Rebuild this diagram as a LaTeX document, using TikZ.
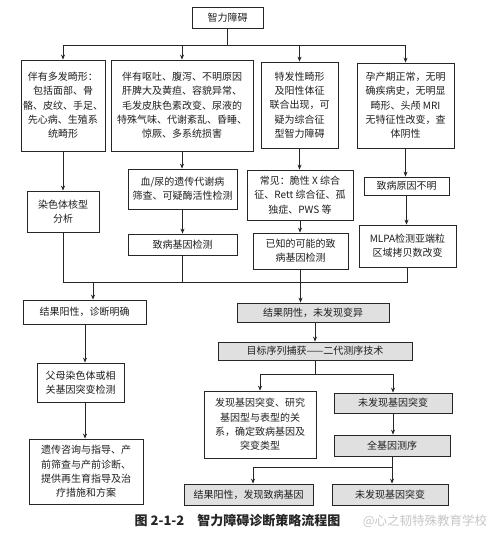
\documentclass[tikz,border=0pt]{standalone}
\usepackage{fontspec}
\setmainfont{Noto Sans CJK SC}
\usetikzlibrary{arrows.meta}
\begin{document}
\begin{tikzpicture}[x=1pt,y=-1pt,
 wh/.style 2 args={minimum width=#1pt,minimum height=#2pt},
 box/.style={draw=black!85,line width=0.8pt,inner sep=0pt,align=center,
   font=\fontsize{10}{14.3}\selectfont,text=black!88},
 gbox/.style={box,fill=black!12},
 ln/.style={draw=black!85,line width=0.7pt},
 arr/.style={-{Stealth[length=5pt,width=4pt]}}]
\useasboundingbox (0,0) rectangle (500,545);
\fill[white] (0,0) rectangle (500,545);

% row 0
\node[box,wh={71}{21}] (top) at (227.5,17.5) {智力障碍};
% row 1
\node[box,wh={84}{91}] (A) at (63,105.5) {伴有多发畸形：\\包括面部、骨\\骼、皮纹、手足、\\先心病、生殖系\\统畸形};
\node[box,wh={142}{91}] (B) at (182,105.5) {伴有呕吐、腹泻、不明原因\\肝脾大及黄疸、容貌异常、\\毛发皮肤色素改变、尿液的\\特殊气味、代谢紊乱、昏睡、\\惊厥、多系统损害};
\node[box,wh={77}{86}] (C) at (299.5,105) {特发性畸形\\及阳性体征\\联合出现，可\\疑为综合征\\型智力障碍};
\node[box,wh={97}{85}] (D) at (405.5,105.5) {孕产期正常，无明\\确疾病史，无明显\\畸形、头颅 MRI\\无特征性改变，查\\体阴性};
% row 2
\node[box,wh={72}{41}] (A2) at (63,211.5) {染色体核型\\分析};
\node[box,wh={109}{40}] (B2) at (182.5,189) {血/尿的遗传代谢病\\筛查、可疑酶活性检测};
\node[box,wh={109}{21}] (B3) at (182.5,244.5) {致病基因检测};
\node[box,wh={106}{50}] (C2) at (300,195) {常见：脆性 X 综合\\征、Rett 综合征、孤\\独症、PWS 等};
\node[box,wh={95}{36}] (C3) at (300.5,251) {已知的可能的致\\病基因检测};
\node[box,wh={85}{18}] (D2) at (406.5,186) {致病原因不明};
\node[box,wh={97}{42}] (D3) at (407.5,246) {MLPA检测亚端粒\\区域拷贝数改变};
% lower left
\node[box,wh={123}{24}] (P1) at (84.5,312) {结果阳性，诊断明确};
\node[box,wh={87}{39}] (P2) at (80.5,382.5) {父母染色体或相\\关基因突变检测};
\node[box,wh={114}{65}] (P3) at (86,471.5) {遗传咨询与指导、产\\前筛查与产前诊断、\\提供再生育指导及治\\疗措施和方案};
% lower right
\node[gbox,wh={152}{19}] (N1) at (313,312.5) {结果阴性，未发现变异};
\node[gbox,wh={194}{18}] (N2) at (315,351) {目标序列捕获——二代测序技术};
\node[box,wh={112}{67}] (F1) at (260,424.5) {发现基因突变、研究\\基因型与表型的关\\系，确定致病基因及\\突变类型};
\node[gbox,wh={118}{20}] (F2) at (393,403) {未发现基因突变};
\node[gbox,wh={116}{21}] (F3) at (392,445.5) {全基因测序};
\node[gbox,wh={129}{21}] (G1) at (248.5,494.5) {结果阳性，发现致病基因};
\node[gbox,wh={116}{21}] (G2) at (390,494.5) {未发现基因突变};

% caption and watermark
\node[font=\fontsize{13}{15}\selectfont\bfseries,text=black!85] (cap) at (237.5,521) {图 2-1-2\quad 智力障碍诊断策略流程图};
\node[font=\fontsize{12.5}{15}\selectfont,text=black!22] (wm) at (425,521) {@心之韧特殊教育学校};

% connectors: top split
\coordinate (bus) at (227.5,45);
\draw[ln] (top.south) -- (bus);
\draw[ln,arr] (bus) -| (A.north);
\draw[ln,arr] (bus) -| (B.north);
\draw[ln,arr] (bus) -| (C.north);
\draw[ln,arr] (bus) -| (D.north);
% columns
\draw[ln,arr] (A.south) -- (A2.north);
\draw[ln,arr] (B.south) -- (B.south |- B2.north);
\draw[ln,arr] (B2.south) -- (B3.north);
\draw[ln,arr] (C.south) -- (C.south |- C2.north);
\draw[ln,arr] (C2.south) -- (C2.south |- C3.north);
\draw[ln,arr] (D.south) -- (D.south |- D2.north);
\draw[ln,arr] (D2.south) -- (D2.south |- D3.north);
% merge
\coordinate (m) at (300.5,282);
\draw[ln] (A2.south) -- (A2.south |- m) -- (D3.south |- m) -- (D3.south);
\draw[ln] (B3.south) -- (B3.south |- m);
\draw[ln,arr] (C3.south) -- (C3.south |- N1.north);
\coordinate (pa) at (93,282);
\draw[ln,arr] (pa) -- (pa |- P1.north);
% left column
\coordinate (pb) at (85,0);
\draw[ln,arr] (P1.south -| pb) -- (P2.north -| pb);
\draw[ln,arr] (P2.south -| pb) -- (P3.north -| pb);
% right column
\draw[ln,arr] (N1.south -| N2.north) -- (N2.north);
\coordinate (s1) at (315,374);
\draw[ln] (N2.south) -- (s1);
\draw[ln,arr] (s1) -| (F1.north);
\draw[ln,arr] (s1) -| (F2.north);
\draw[ln,arr] (F2.south) -- (F2.south |- F3.north);
\coordinate (s2) at (392,467);
\draw[ln] (F3.south) -- (s2);
\draw[ln,arr] (s2) -| ([xshift=4.5pt]G1.north);
\draw[ln,arr] (s2) -- (s2 |- G2.north);
\end{tikzpicture}
\end{document}
